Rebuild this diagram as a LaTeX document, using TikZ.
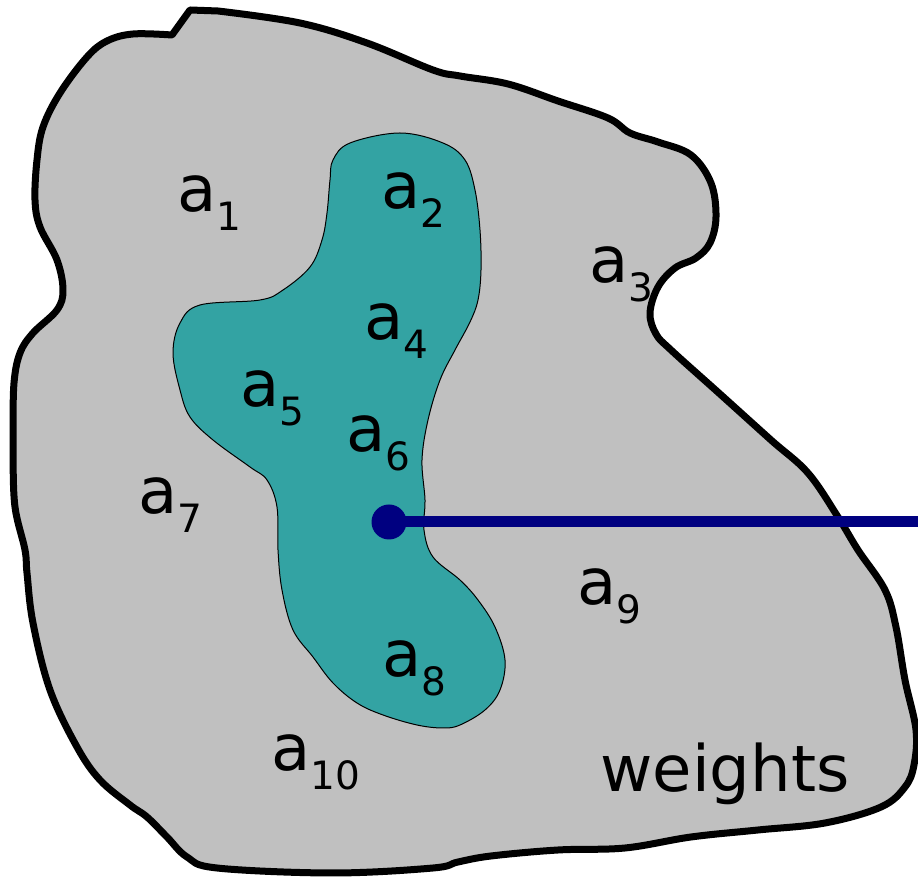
\documentclass[tikz,border=0pt]{standalone}
\usepackage{fontspec}
\setmainfont{DejaVu Sans}
\definecolor{regiongray}{HTML}{C0C0C0}
\definecolor{subteal}{HTML}{33A3A3}
\definecolor{pointblue}{HTML}{000080}
\newcommand{\weight}[1]{a\raisebox{-9.5pt}{\fontsize{19.5}{23}\selectfont #1}}

\begin{document}
\begin{tikzpicture}[x=0.5pt,y=-0.5pt,
  lbl/.style={anchor=base west,inner sep=0pt,font=\fontsize{32}{38}\selectfont}]
  \useasboundingbox (0,0) rectangle (918,881);
  % outer region
  \draw[line width=3.5pt,fill=regiongray,line join=round]
    (172,35) -- (190,10) -- (218,11) -- plot[smooth,tension=0.6] coordinates {
      (218,11) (300,23) (367,43) (433,70) (460,76) (508,84) (558,101) (608,118)
      (630,133) (658,142) (691,155) (711,183) (716,217) (710,243) (696,258)
      (675,268) (658,287) (650,313) (656,334) (671,350) (720,394) (771,440)
      (808,473) (838,517) (858,550) (885,590) (896,627) (905,680) (916,730)
      (914,765) (905,787) (881,807) (825,823) (758,830) (691,837) (625,848)
      (558,850) (491,856) (458,862) (433,868) (333,873) (217,868) (187,857)
      (167,837) (147,817) (130,805) (100,780) (77,747) (50,690) (33,623)
      (27,573) (25,550) (15,507) (13,457) (13,433) (14,383) (20,353) (33,333)
      (57,310) (63,290) (57,260) (40,227) (35,200) (37,160) (43,127) (60,93)
      (87,57) (107,41) (133,34) (172,35)} -- cycle;
  % inner region
  \draw[line width=0.5pt,fill=subteal]
    plot[smooth cycle,tension=0.6] coordinates {
      (333,160) (350,143) (400,133) (443,143) (465,160) (475,190) (480,230)
      (481,270) (478,300) (470,322) (455,350) (440,380) (428,420) (422,460)
      (425,500) (424,530) (433,557) (460,580) (478,600) (495,627) (505,660)
      (500,690) (485,710) (460,725) (443,728) (417,725) (383,715) (357,703)
      (333,683) (313,657) (293,630) (282,590) (278,550) (277,507) (267,480)
      (250,467) (213,440) (190,417) (180,390) (173,353) (180,323) (200,305)
      (260,300) (283,290) (310,267) (322,240) (327,213) (330,180)};
  \foreach \n/\x/\y in {1/177/212,2/381/209,3/589/283,4/364/340,5/240/407,
                        6/346/452,7/138/514,8/382/677,9/577/605,10/271/771}
    \node[lbl] (a\n) at (\x,\y) {\weight{\n}};
  \node[lbl] (weights) at (600,792) {weights};
  \node[circle,fill=pointblue,inner sep=0pt,minimum size=17.5pt] (pt) at (389,522) {};
  \coordinate (edge) at (918,522);
  \draw[pointblue,line width=5.5pt] (pt.center) -- (edge);
\end{tikzpicture}
\end{document}
